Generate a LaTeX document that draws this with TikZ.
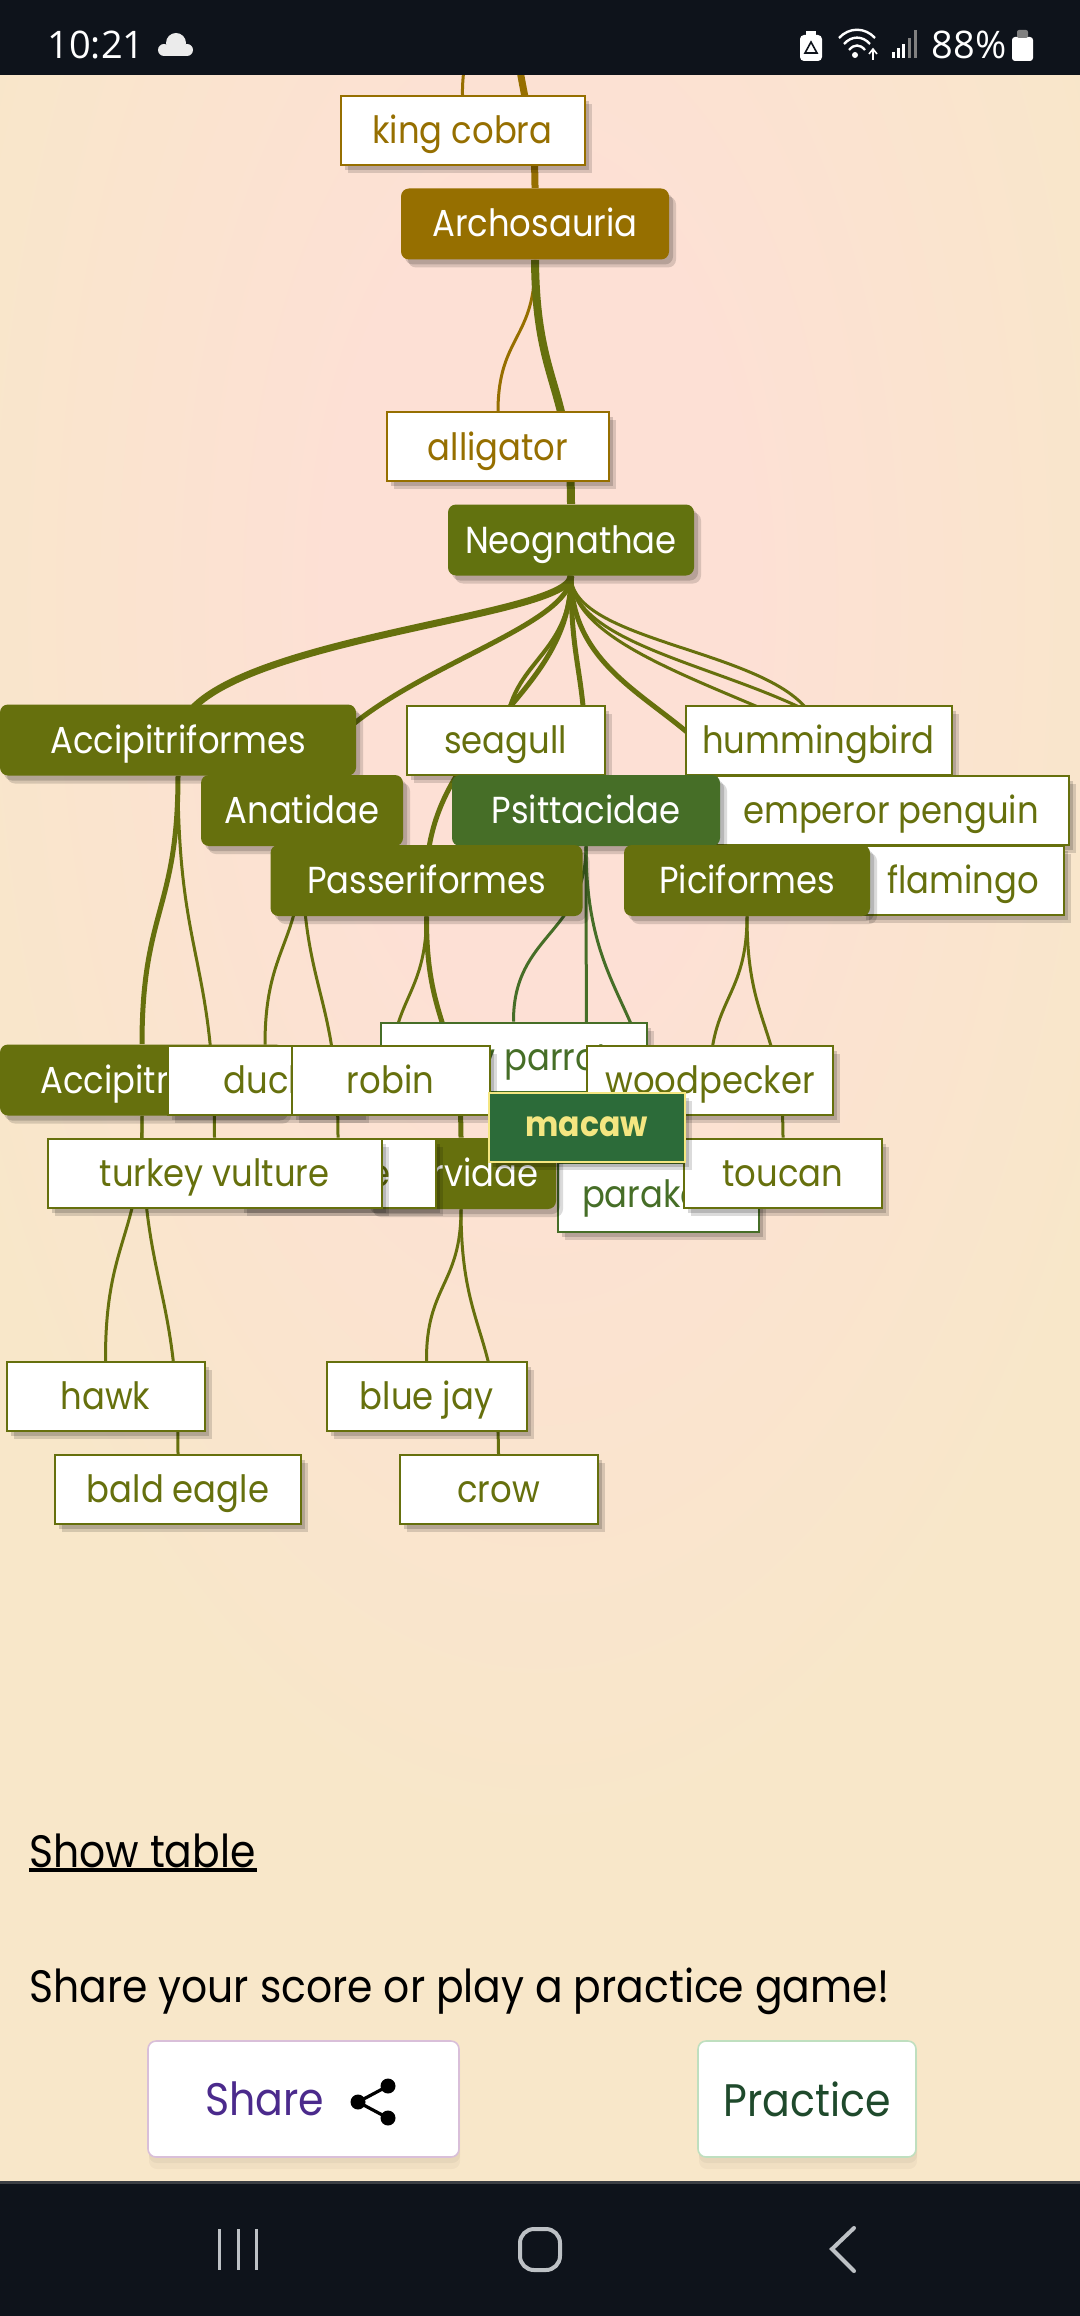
\documentclass[tikz,border=0pt]{standalone}
\usepackage{fontspec}
\setmainfont[FakeStretch=0.9]{Poppins}
\newfontfamily\statusfont{Open Sans}
\usetikzlibrary{shadows}
\definecolor{paper}{HTML}{F8E7C9}
\definecolor{glowin}{HTML}{FDE0D5}
\definecolor{barcol}{HTML}{0E131B}
\definecolor{goldcol}{HTML}{966F00}
\definecolor{olivecol}{HTML}{66700D}
\definecolor{neogcol}{HTML}{62720F}
\definecolor{psitcol}{HTML}{466E27}
\definecolor{macawcol}{HTML}{2C6B39}
\definecolor{macawtxt}{HTML}{F4E681}
\definecolor{navcol}{HTML}{BDC1C5}
\pgfdeclareradialshading{glow}{\pgfpoint{0bp}{0bp}}{color(0bp)=(glowin); color(8bp)=(glowin); color(25bp)=(paper); color(50bp)=(paper)}
\pgfdeclarelayer{backdrop}
\pgfdeclarelayer{links}
\pgfsetlayers{backdrop,links,main}
\tikzset{
    boxshadow/.style={drop shadow={shadow xshift=3.5pt,shadow yshift=-4pt,opacity=.14,fill=black},
        drop shadow={shadow xshift=2pt,shadow yshift=-2.5pt,opacity=.16,fill=black}},
    clade/.style={rectangle,rounded corners=4pt,fill=#1,text=white,minimum height=35.5pt,inner sep=0pt,
        font=\fontsize{18.8}{22}\selectfont,text height=15pt,text depth=2pt,boxshadow},
    leaf/.style={rectangle,fill=white,draw=#1,text=#1,line width=1pt,minimum height=34.5pt,inner sep=0pt,
        font=\fontsize{18.8}{22}\selectfont,text height=15pt,text depth=2pt,boxshadow},
    wide/.style={line width=3.5pt,olivecol},
    mid/.style={line width=2.5pt,olivecol},
    thin/.style={line width=1.5pt,olivecol},
    pagetext/.style={anchor=base west,inner sep=0pt,text=black,font=\fontsize{22.7}{26}\selectfont},
    button/.style={rectangle,rounded corners=4pt,fill=white,line width=.8pt,minimum height=58pt,inner sep=0pt,
        drop shadow={shadow xshift=.5pt,shadow yshift=-6pt,opacity=.03,fill=black},
        drop shadow={shadow xshift=.5pt,shadow yshift=-3pt,opacity=.04,fill=black}},
    statustext/.style={inner sep=0pt,text=white,font=\statusfont\fontsize{19}{24}\selectfont},
}
\begin{document}
\begin{tikzpicture}[x=0.5pt,y=-0.5pt]
    \useasboundingbox (0,0) rectangle (1080,2316);

    \begin{pgfonlayer}{backdrop}
        \fill[paper] (0,0) rectangle (1080,2316);
        \shade[shading=glow] (540,600) ellipse[x radius=640, y radius=1250];
    \end{pgfonlayer}

    % top of the tree
    \node[leaf=goldcol,minimum width=122pt] (kingcobra) at (462.5,130.5) {king cobra};
    \node[clade=goldcol,minimum width=134pt] (archosauria) at (535,224) {Archosauria};
    \node[leaf=goldcol,minimum width=111pt] (alligator) at (498,447) {alligator};
    \node[clade=neogcol,minimum width=123pt] (neognathae) at (571,540) {Neognathae};

    % second row
    \node[clade=olivecol,minimum width=178pt] (accipitriformes) at (178,740) {Accipitriformes};
    \node[leaf=olivecol,minimum width=99pt] (seagull) at (505.5,740) {seagull};
    \node[leaf=olivecol,minimum width=133pt] (hummingbird) at (818.5,740) {hummingbird};
    \node[leaf=olivecol,minimum width=178pt] (penguin) at (891,810) {emperor penguin};
    \node[leaf=olivecol,minimum width=101pt] (flamingo) at (963,880.5) {flamingo};
    \node[clade=olivecol,minimum width=101pt] (anatidae) at (302,810.5) {Anatidae};
    \node[clade=psitcol,minimum width=134pt] (psittacidae) at (586,810.5) {Psittacidae};
    \node[clade=olivecol,minimum width=156pt] (passeriformes) at (426.5,880.5) {Passeriformes};
    \node[clade=olivecol,minimum width=123pt] (piciformes) at (747,880.5) {Piciformes};

    % third row
    \node[leaf=psitcol,minimum width=100.5pt,text height=13.5pt,text depth=3.5pt] (parakeet) at (658.5,1197) {parakeet};
    \node[leaf=psitcol,minimum width=133pt] (parrot) at (513.5,1057) {gray parrot};
    \node[clade=olivecol,minimum width=95pt] (corvidae) at (461,1173.5) {Corvidae};
    \node[leaf=olivecol,minimum width=98pt] (goose) at (338,1173) {goose};
    \node[leaf=olivecol,minimum width=167pt] (vulture) at (214.5,1173) {turkey vulture};
    \node[clade=olivecol,minimum width=142pt] (accipitridae) at (142,1080) {Accipitridae};
    \node[leaf=olivecol,minimum width=97pt] (duck) at (265,1080) {duck};
    \node[leaf=olivecol,minimum width=99pt] (robin) at (390.5,1080) {robin};
    \node[leaf=olivecol,minimum width=123pt] (woodpecker) at (710,1080) {woodpecker};
    \node[leaf=olivecol,minimum width=99pt] (toucan) at (783,1173) {toucan};
    \node[rectangle,fill=macawcol,draw=macawtxt,text=macawtxt,line width=1pt,minimum width=98pt,minimum height=34.5pt,
        inner sep=0pt,font=\fontsize{17.5}{20}\selectfont\bfseries,boxshadow] (macaw) at (586.5,1127) {macaw};

    % last row
    \node[leaf=olivecol,minimum width=99pt] (hawk) at (105.5,1396.5) {hawk};
    \node[leaf=olivecol,minimum width=123pt] (baldeagle) at (178,1489.5) {bald eagle};
    \node[leaf=olivecol,minimum width=100pt] (bluejay) at (426.5,1396.5) {blue jay};
    \node[leaf=olivecol,minimum width=99pt] (crow) at (498.5,1489.5) {crow};

    \coordinate (cobraup) at (467,40);
    \coordinate (archup) at (516,40);

    \begin{pgfonlayer}{links}
        \draw[line width=1.5pt,goldcol] (cobraup) .. controls (466,60) and (462,75) .. (kingcobra.north);
        \draw[line width=3.5pt,goldcol] (archup) .. controls (522,100) and (535,120) .. (archosauria.north);
        \draw[line width=1.5pt,goldcol] (archosauria.south) .. controls (536,340) and (498,335) .. (alligator.north);
        \draw[line width=4pt,olivecol] (archosauria.south) .. controls (536,385) and (571,385) .. (neognathae.north);

        \draw[wide] (neognathae.south) .. controls (571,620) and (178,640) .. (accipitriformes.center);
        \draw[mid] (neognathae.south) .. controls (571,640) and (302,690) .. (anatidae.center);
        \draw[thin,line width=2pt] (neognathae.south) .. controls (571,660) and (505,660) .. (seagull.center);
        \draw[mid] (neognathae.south) .. controls (571,700) and (426,735) .. (passeriformes.center);
        \draw[mid] (neognathae.south) .. controls (571,670) and (586,670) .. (psittacidae.north);
        \draw[mid] (neognathae.south) .. controls (571,710) and (747,710) .. (piciformes.north);
        \draw[thin] (neognathae.south) .. controls (571,650) and (818,650) .. (hummingbird.center);
        \draw[thin] (neognathae.south) .. controls (571,675) and (891,675) .. (penguin.center);
        \draw[thin] (neognathae.south) .. controls (571,690) and (963,720) .. (flamingo.center);

        \draw[mid] (accipitriformes.south) .. controls (178,910) and (142,910) .. (accipitridae.north);
        \draw[thin] (accipitriformes.south) .. controls (178,957) and (214,957) .. (vulture.north);
        \draw[thin] (anatidae.south) .. controls (302,945) and (265,945) .. (duck.north);
        \draw[thin] (anatidae.south) .. controls (302,992) and (338,992) .. (goose.north);
        \draw[thin] (passeriformes.south) .. controls (426,998) and (390,998) .. (robin.center);
        \draw[mid] (passeriformes.south) .. controls (426,1027) and (461,1027) .. (corvidae.north);
        \draw[thin,psitcol] (psittacidae.south) .. controls (586,934) and (513,934) .. (parrot.north);
        \draw[thin,psitcol] (psittacidae.south) -- (macaw.north);
        \draw[thin,psitcol] (psittacidae.south) .. controls (586,1004) and (658,1004) .. (parakeet.north);
        \draw[thin] (piciformes.south) .. controls (747,998) and (710,998) .. (woodpecker.center);
        \draw[thin] (piciformes.south) .. controls (747,1027) and (783,1027) .. (toucan.north);
        \draw[thin] (accipitridae.south) .. controls (142,1238) and (105,1238) .. (hawk.north);
        \draw[thin] (accipitridae.south) .. controls (142,1285) and (178,1285) .. (baldeagle.north);
        \draw[thin] (corvidae.south) .. controls (461,1285) and (426,1285) .. (bluejay.north);
        \draw[thin] (corvidae.south) .. controls (461,1331) and (498,1331) .. (crow.north);
    \end{pgfonlayer}

    % page text and buttons
    \node[pagetext] (showtable) at (29,1867) {Show table};
    \draw[line width=2pt] (29,1870) -- (257,1870);
    \node[pagetext] (sharetext) at (29,2002) {Share your score or play a practice game!};
    \node[button,draw=black!20!violet!25,minimum width=155.5pt] (sharebtn) at (303.5,2099) {};
    \node[button,draw=green!50!black!25,minimum width=109pt] (practicebtn) at (807,2099) {};
    \node[anchor=center,inner sep=0pt,text={rgb,255:red,75;green,42;blue,140},font=\fontsize{22.8}{26}\selectfont] (sharelabel) at (264.5,2099) {Share};
    \node[anchor=center,inner sep=0pt,text={rgb,255:red,31;green,74;blue,44},font=\fontsize{22.8}{26}\selectfont] (practicelabel) at (807,2099) {Practice};
    \draw[line width=1.6pt,black] (388,2086) -- (358,2102) -- (388,2118);
    \foreach \x/\y in {388/2086,358/2102,388/2118} {
        \fill[black] (\x,\y) circle[radius=7.5];
    }

    % status bar
    \fill[barcol] (0,0) rectangle (1080,75);
    \node[statustext] (clock) at (96,45) {10:21};
    \foreach \x/\y/\r in {164/50/6,176/43/10,187/50/6} {
        \fill[white!92!black] (\x,\y) circle[radius=\r];
    }
    \fill[white!92!black] (164,46) rectangle (187,56);
    \fill[white,rounded corners=2pt] (800,35) rectangle (822,61);
    \fill[white] (806,31) rectangle (816,36);
    \draw[barcol,line width=.8pt] (811,42) -- (817,53) -- (805,53) -- cycle;
    \foreach \r/\h in {16/38,11/44,6/50} {
        \draw[white,line width=1.2pt] ({857-\r-2},\h) .. controls ({857-\r/2},{\h-\r/2-3}) and ({857+\r/2},{\h-\r/2-3}) .. ({857+\r+2},\h);
    }
    \fill[white] (855,55) circle[radius=3];
    \draw[white,line width=.8pt] (873,60) -- (873,50) (869,54) -- (873,49) -- (877,54);
    \foreach \x/\h/\c in {892/6/white,897/10/white,902/14/white,908/20/gray,914/28/gray} {
        \fill[\c] (\x,58) rectangle ++(3,-\h);
    }
    \node[statustext] (percent) at (969,45) {88\%};
    \fill[white,rounded corners=1.5pt] (1012,37) rectangle (1033,61);
    \fill[gray,rounded corners=1pt] (1017,30) rectangle (1028,38);

    % navigation bar
    \fill[barcol] (0,2181) rectangle (1080,2316);
    \fill[black!20!barcol!80!white] (0,2181) rectangle (1080,2184);
    \foreach \x in {219,238,256} {
        \draw[navcol,line width=1.5pt] (\x,2229) -- (\x,2270);
    }
    \draw[navcol,line width=2pt,rounded corners=7pt] (520,2229) rectangle (560,2270);
    \draw[navcol,line width=2pt,line cap=round] (854,2228) -- (832,2249) -- (854,2271);
\end{tikzpicture}
\end{document}
